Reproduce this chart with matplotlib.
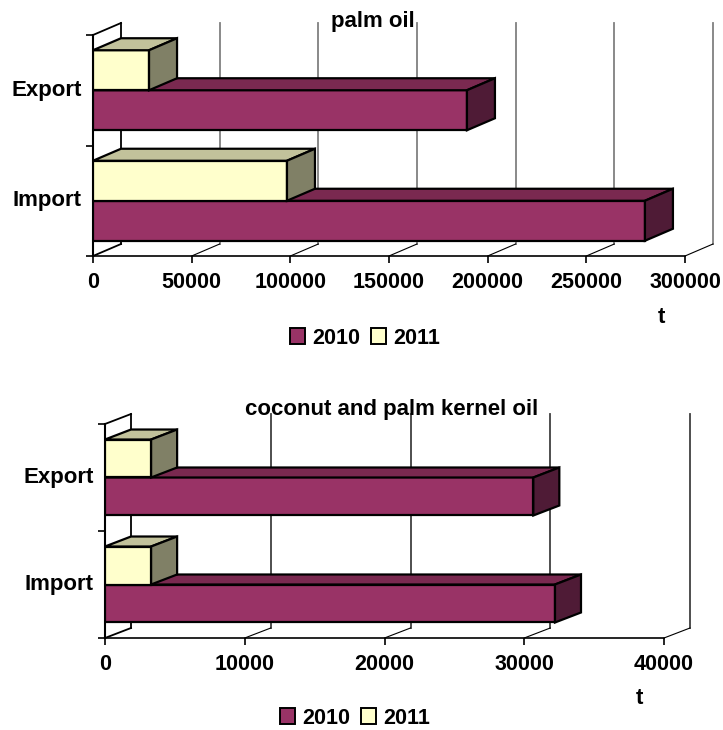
import matplotlib
matplotlib.use("Agg")
import matplotlib.pyplot as plt
from matplotlib.patches import Patch, Polygon
from matplotlib.transforms import ScaledTranslation

plt.rcParams['font.family'] = ['Liberation Sans', 'DejaVu Sans']
plt.rcParams['font.weight'] = 'bold'

categories = ["Import", "Export"]
years = ["2010", "2011"]

palm_2010 = [279700, 189500]
palm_2011 = [98300, 28400]
palm_ticks = [0, 50000, 100000, 150000, 200000, 250000, 300000]

coconut_2010 = [32200, 30650]
coconut_2011 = [3300, 3300]
coconut_ticks = [0, 10000, 20000, 30000, 40000]

# front colour, top face, side face
col_2010 = ("#993366", "#7a2950", "#4f1b36")
col_2011 = ("#ffffcc", "#c2c29b", "#808066")

W, H = 723, 730
fig = plt.figure(figsize=(W / 100, H / 100), dpi=100)


def bar_3d(ax, y, val, bar_h, cols, dx, dy):
    ax.barh(y, val, bar_h, align="edge", color=cols[0], edgecolor="black", linewidth=1.6, zorder=3)
    top = [(0, y + bar_h), (val, y + bar_h), (val + dx, y + bar_h + dy), (dx, y + bar_h + dy)]
    side = [(val, y), (val + dx, y + dy), (val + dx, y + bar_h + dy), (val, y + bar_h)]
    ax.add_patch(Polygon(top, facecolor=cols[1], edgecolor="black", linewidth=1.6, zorder=3, clip_on=False))
    ax.add_patch(Polygon(side, facecolor=cols[2], edgecolor="black", linewidth=1.6, zorder=3, clip_on=False))


def draw_chart(box, ticks, v2010, v2011, bar_h, depth_px, grid_col):
    left, right, top, bottom = box
    ax = fig.add_axes([left / W, 1 - bottom / H, (right - left) / W, (bottom - top) / H])
    ax.set_xlim(ticks[0], ticks[-1])
    ax.set_ylim(0, 2)
    dx = depth_px[0] / (right - left) * ticks[-1]
    dy = depth_px[1] / (bottom - top) * 2

    # back wall lines and the floor lines that lead to them
    for t in ticks:
        col = "black" if t == 0 else grid_col
        ax.plot([t + dx, t + dx], [dy, 2 + dy], color=col, lw=1.3, zorder=1, clip_on=False)
        ax.plot([t, t + dx], [0, dy], color="black", lw=0.8 if t else 1.3, zorder=1, clip_on=False)
    ax.plot([0, dx], [2, 2 + dy], color="black", lw=1.3, zorder=1, clip_on=False)

    for i in range(len(categories)):
        bar_3d(ax, i + 0.5 - bar_h, v2010[i], bar_h, col_2010, dx, dy)
        bar_3d(ax, i + 0.5, v2011[i], bar_h, col_2011, dx, dy)

    ax.spines["top"].set_visible(False)
    ax.spines["right"].set_visible(False)
    ax.spines["left"].set_linewidth(1.5)
    ax.spines["bottom"].set_linewidth(1.2)
    ax.patch.set_visible(False)
    ax.set_xticks(ticks)
    ax.set_xticklabels([str(t) for t in ticks], fontsize=15.5)
    ax.set_yticks([0, 1, 2])
    ax.set_yticklabels([])
    ax.set_yticks([0.5, 1.5], minor=True)
    ax.set_yticklabels(categories, minor=True, fontsize=16)
    ax.tick_params(axis="x", length=5, width=1.2, pad=6.5)
    ax.tick_params(axis="y", which="major", length=5, width=1.2)
    ax.tick_params(axis="y", which="minor", length=0, pad=8)
    # category labels sit a little above the band centre
    up = ScaledTranslation(0, 2.5 / 100, fig.dpi_scale_trans)
    for lab in ax.get_yticklabels(minor=True):
        lab.set_transform(lab.get_transform() + up)
    return ax


def legend_at(x, y):
    handles = [Patch(facecolor=col_2010[0], edgecolor="black", linewidth=1.4),
               Patch(facecolor=col_2011[0], edgecolor="black", linewidth=1.4)]
    fig.legend(handles, years, loc="center", bbox_to_anchor=(x / W, 1 - y / H), ncol=2, frameon=False,
               fontsize=15.5, handlelength=0.7, handleheight=0.7, handletextpad=0.35,
               columnspacing=0.5, borderpad=0)


def label_at(x, y, s, size=16):
    fig.text(x / W, 1 - y / H, s, ha="center", va="center", fontsize=size, fontweight="bold")


draw_chart((93, 685, 35, 256), palm_ticks, palm_2010, palm_2011, 0.362, (28, 12), "#808080")
label_at(373, 21, "palm oil")
label_at(661, 317, "t", 16)
legend_at(365, 338)

draw_chart((105, 664, 424, 638), coconut_ticks, coconut_2010, coconut_2011, 0.355, (26, 10), "#404040")
label_at(392, 410, "coconut and palm kernel oil")
label_at(639, 698, "t", 16)
legend_at(355, 718)

fig.savefig("out.png", dpi=100)
